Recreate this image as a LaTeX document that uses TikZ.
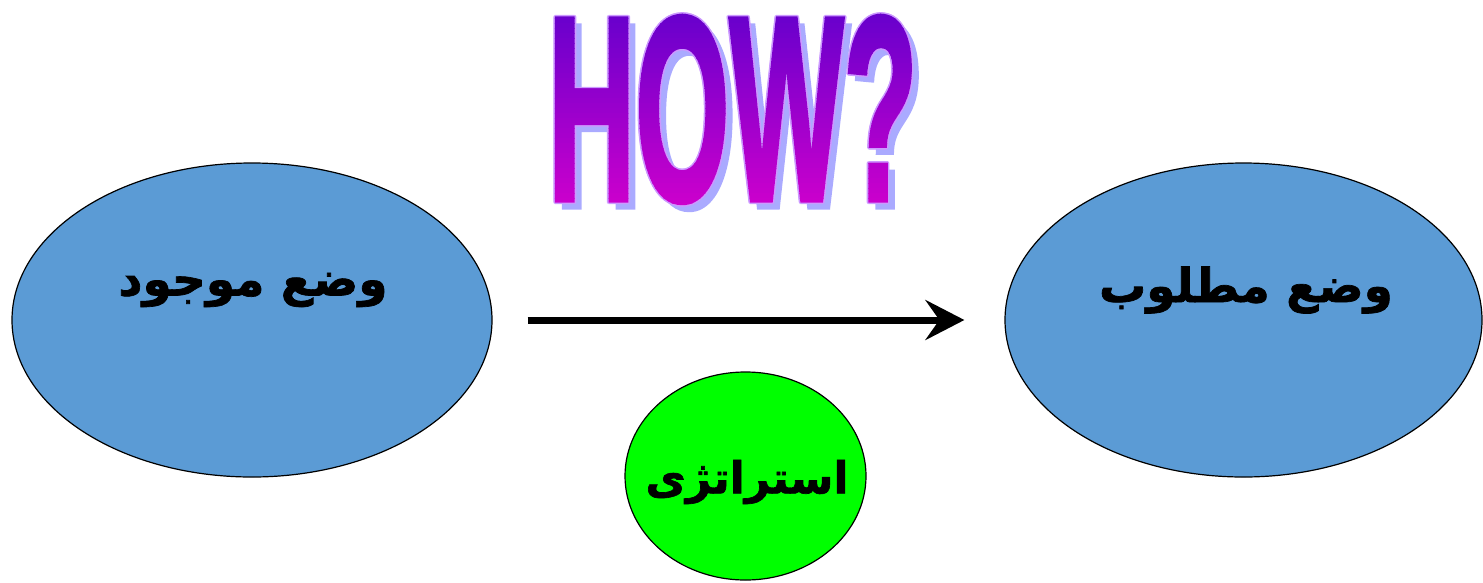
\documentclass[tikz,border=0pt]{standalone}
\usepackage{fontspec}
\usetikzlibrary{arrows.meta,shapes.geometric}
\TeXXeTstate=1
\newfontfamily\arabicfont[Script=Arabic, BoldFeatures={FakeBold=1.5}]{DejaVu Sans}
\newfontfamily\howfont[BoldFeatures={FakeBold=2}]{Liberation Sans}
\definecolor{ellblue}{HTML}{5B9BD5}
\definecolor{circgreen}{HTML}{00FF00}
\definecolor{howtop}{HTML}{6600CC}
\definecolor{howbot}{HTML}{CC00CC}
\definecolor{howshadow}{HTML}{AAAAFF}
\definecolor{howline}{HTML}{CC99FF}
\newcommand{\howtext}{{\fontsize{263}{263}\selectfont\howfont\bfseries\scalebox{0.46}[1]{HOW?}}}
\begin{document}
\begin{tikzpicture}[x=1pt,y=-1pt,
  statebox/.style={ellipse, draw=black, line width=1.2pt, fill=ellblue, inner sep=0pt},
  arlabel/.style={font=\arabicfont\bfseries\fontsize{47}{56}\selectfont, inner sep=0pt},
  hownode/.style={anchor=base west, inner sep=0pt, outer sep=0pt},
  conn/.style={line width=7pt, -{Stealth[length=39pt,width=40pt,inset=14pt]}}
]
\useasboundingbox (0,0) rectangle (1483,582);
% ellipses
\node[statebox, minimum width=480pt, minimum height=314pt] (cur) at (252,320) {};
\node[statebox, minimum width=477pt, minimum height=314pt] (goal) at (1243.5,320) {};
\node[ellipse, draw=black, line width=1.2pt, fill=circgreen, inner sep=0pt,
      minimum width=241pt, minimum height=208pt] (strat) at (745.5,476) {};
% labels
\node[arlabel] (curtext) at (253,290) {\beginR وضع موجود\endR};
\node[arlabel] (goaltext) at (1246,290) {\beginR وضع مطلوب\endR};
\node[arlabel, font=\arabicfont\bfseries\fontsize{44}{52}\selectfont] (strattext) at (747,482) {\beginR استراتژی\endR};
% arrow
\draw[conn, shorten <=35pt, shorten >=40pt] (cur.east) -- (goal.west);
% HOW? shadow
\node[hownode, text=howshadow] (howshadow) at (555,207) {\howtext};
% HOW? outline
\foreach \dx/\dy [count=\k] in {1.6/0,-1.6/0,0/1.6,0/-1.6,1.1/1.1,1.1/-1.1,-1.1/1.1,-1.1/-1.1}{
  \node[hownode, text=howline] (howline\k) at (548+\dx,200+\dy) {\howtext};
}
% HOW? gradient fill
\foreach \i in {0,...,39}{
  \pgfmathsetmacro\ya{8+5*\i}
  \pgfmathsetmacro\yb{\ya+5.4}
  \pgfmathsetmacro\p{100*\i/39}
  \begin{scope}
    \clip (530,\ya) rectangle (945,\yb);
    \node[hownode, text=howbot!\p!howtop] (howpart\i) at (548,200) {\howtext};
  \end{scope}
}
\end{tikzpicture}
\end{document}
